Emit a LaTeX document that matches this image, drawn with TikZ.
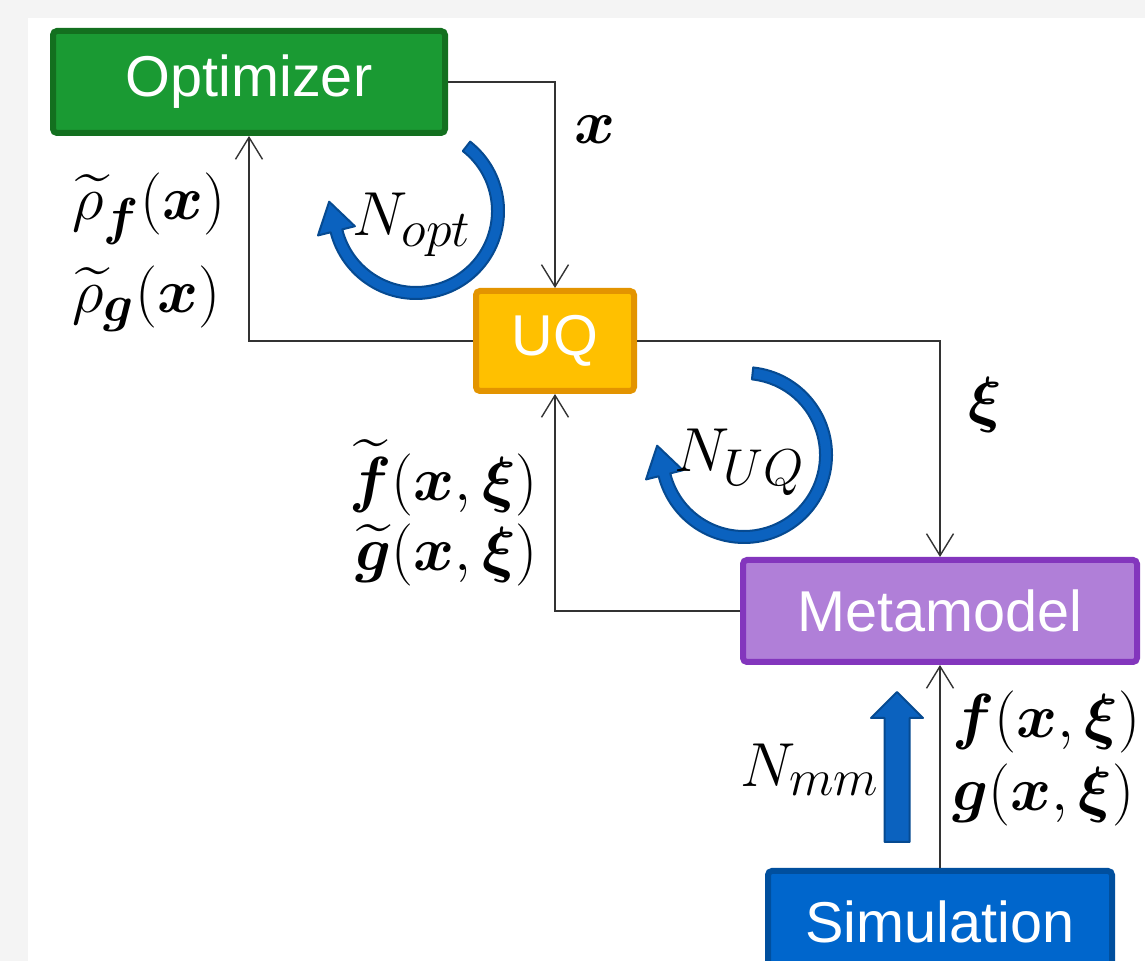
\documentclass[tikz,border=0pt]{standalone}
\usepackage{amsmath,amssymb}
\usepackage{graphicx}
\usepackage{fontspec}
\newfontfamily\boxfont{Liberation Sans}
\usepackage{tikz}
\usetikzlibrary{arrows.meta,calc}

\definecolor{optfill}{HTML}{1A9A33}
\definecolor{optline}{HTML}{13701F}
\definecolor{uqfill}{HTML}{FFC000}
\definecolor{uqline}{HTML}{E39400}
\definecolor{metafill}{HTML}{B07FD8}
\definecolor{metaline}{HTML}{8336BD}
\definecolor{simfill}{HTML}{0066CC}
\definecolor{simline}{HTML}{004F9E}
\definecolor{loopfill}{HTML}{0B62BF}
\definecolor{loopline}{HTML}{064A91}
\definecolor{pagegray}{HTML}{F4F4F4}

% math labels, enlarged past the largest CM math size
\newcommand{\mlbl}[1]{\scalebox{1.25}{$#1$}}

\begin{document}
\begin{tikzpicture}[x=0.5pt,y=0.5pt,
    block/.style={draw,line width=3pt,rounded corners=2pt,text=white,
        font=\boxfont\fontsize{28.8}{34}\selectfont,minimum height=51pt,inner sep=0pt},
    link/.style={draw=black!80,line width=0.7pt,-{Straight Barb[length=11pt,width=13.5pt]}},
    lbl/.style={font=\fontsize{24.88}{30}\selectfont,inner sep=0pt},
    looparrow/.style={fill=loopfill,draw=loopline,line width=1pt,line join=round}]
    % Page and margins
    \useasboundingbox (0,0) rectangle (1145,961);
    \fill[pagegray] (0,0) rectangle (1145,961);
    \fill[white] (28,0) rectangle (1145,943);

    % Boxes
    \node[block,fill=optfill,draw=optline,minimum width=196pt] (opt) at (249,879) {Optimizer};
    \node[block,fill=uqfill,draw=uqline,minimum width=79pt,minimum height=50pt] (uq) at (555,620) {UQ};
    \node[block,fill=metafill,draw=metaline,minimum width=197pt] (meta) at (940,350) {Metamodel};
    \node[block,fill=simfill,draw=simline,minimum width=172pt] (sim) at (940,39) {Simulation};

    % Connectors
    \draw[link] (opt.east) -| (uq.north);
    \draw[link] (uq.west) -| (opt.south);
    \draw[link] (uq.east) -| (meta.north);
    \draw[link] (meta.west) -| (uq.south);
    \draw[link] (sim.north) -- (meta.south);

    % Labels on the connectors
    \node[lbl] (xlbl) at (595,831) {\mlbl{\boldsymbol{x}}};
    \node[lbl,anchor=west] (rhof) at (72,752) {\mlbl{\widetilde{\rho}_{\boldsymbol{f}}(\boldsymbol{x})}};
    \node[lbl,anchor=west] (rhog) at (72,662) {\mlbl{\widetilde{\rho}_{\boldsymbol{g}}(\boldsymbol{x})}};
    \node[lbl] (xilbl) at (985,556) {\mlbl{\boldsymbol{\xi}}};
    \node[lbl,anchor=east] (ftil) at (538,483) {\mlbl{\widetilde{\boldsymbol{f}}(\boldsymbol{x},\boldsymbol{\xi})}};
    \node[lbl,anchor=east] (gtil) at (538,406) {\mlbl{\widetilde{\boldsymbol{g}}(\boldsymbol{x},\boldsymbol{\xi})}};
    \node[lbl,anchor=west] (fsim) at (952,239) {\mlbl{\boldsymbol{f}(\boldsymbol{x},\boldsymbol{\xi})}};
    \node[lbl,anchor=west] (gsim) at (952,166) {\mlbl{\boldsymbol{g}(\boldsymbol{x},\boldsymbol{\xi})}};

    % Loop arrows
    \coordinate (Copt) at (416,750);
    \coordinate (Cuq) at (744,506);
    \foreach \c/\a in {Copt/52, Cuq/84} {
        \filldraw[looparrow] ($(\c)+(\a:44pt)$) arc[start angle=\a,end angle=-166,radius=44pt]
            -- ($(\c)+(-166:50.5pt)$) -- ($(\c)+(-166:41pt)+(104:15pt)$)
            -- ($(\c)+(-166:31.5pt)$) -- ($(\c)+(-166:38pt)$)
            arc[start angle=-166,end angle=\a,radius=38pt] -- cycle;
    }
    \node[lbl] (nopt) at (412,736) {\mlbl{N_{opt}}};
    \node[lbl] (nuq) at (740,499) {\mlbl{N_{UQ}}};

    % Metamodel training arrow
    \filldraw[looparrow] (884.5,119) -- (909.5,119) -- (909.5,243) -- (923,243)
        -- (897,269) -- (871,243) -- (884.5,243) -- cycle;
    \node[lbl,anchor=east] (nmm) at (880,191) {\mlbl{N_{mm}}};
\end{tikzpicture}
\end{document}
